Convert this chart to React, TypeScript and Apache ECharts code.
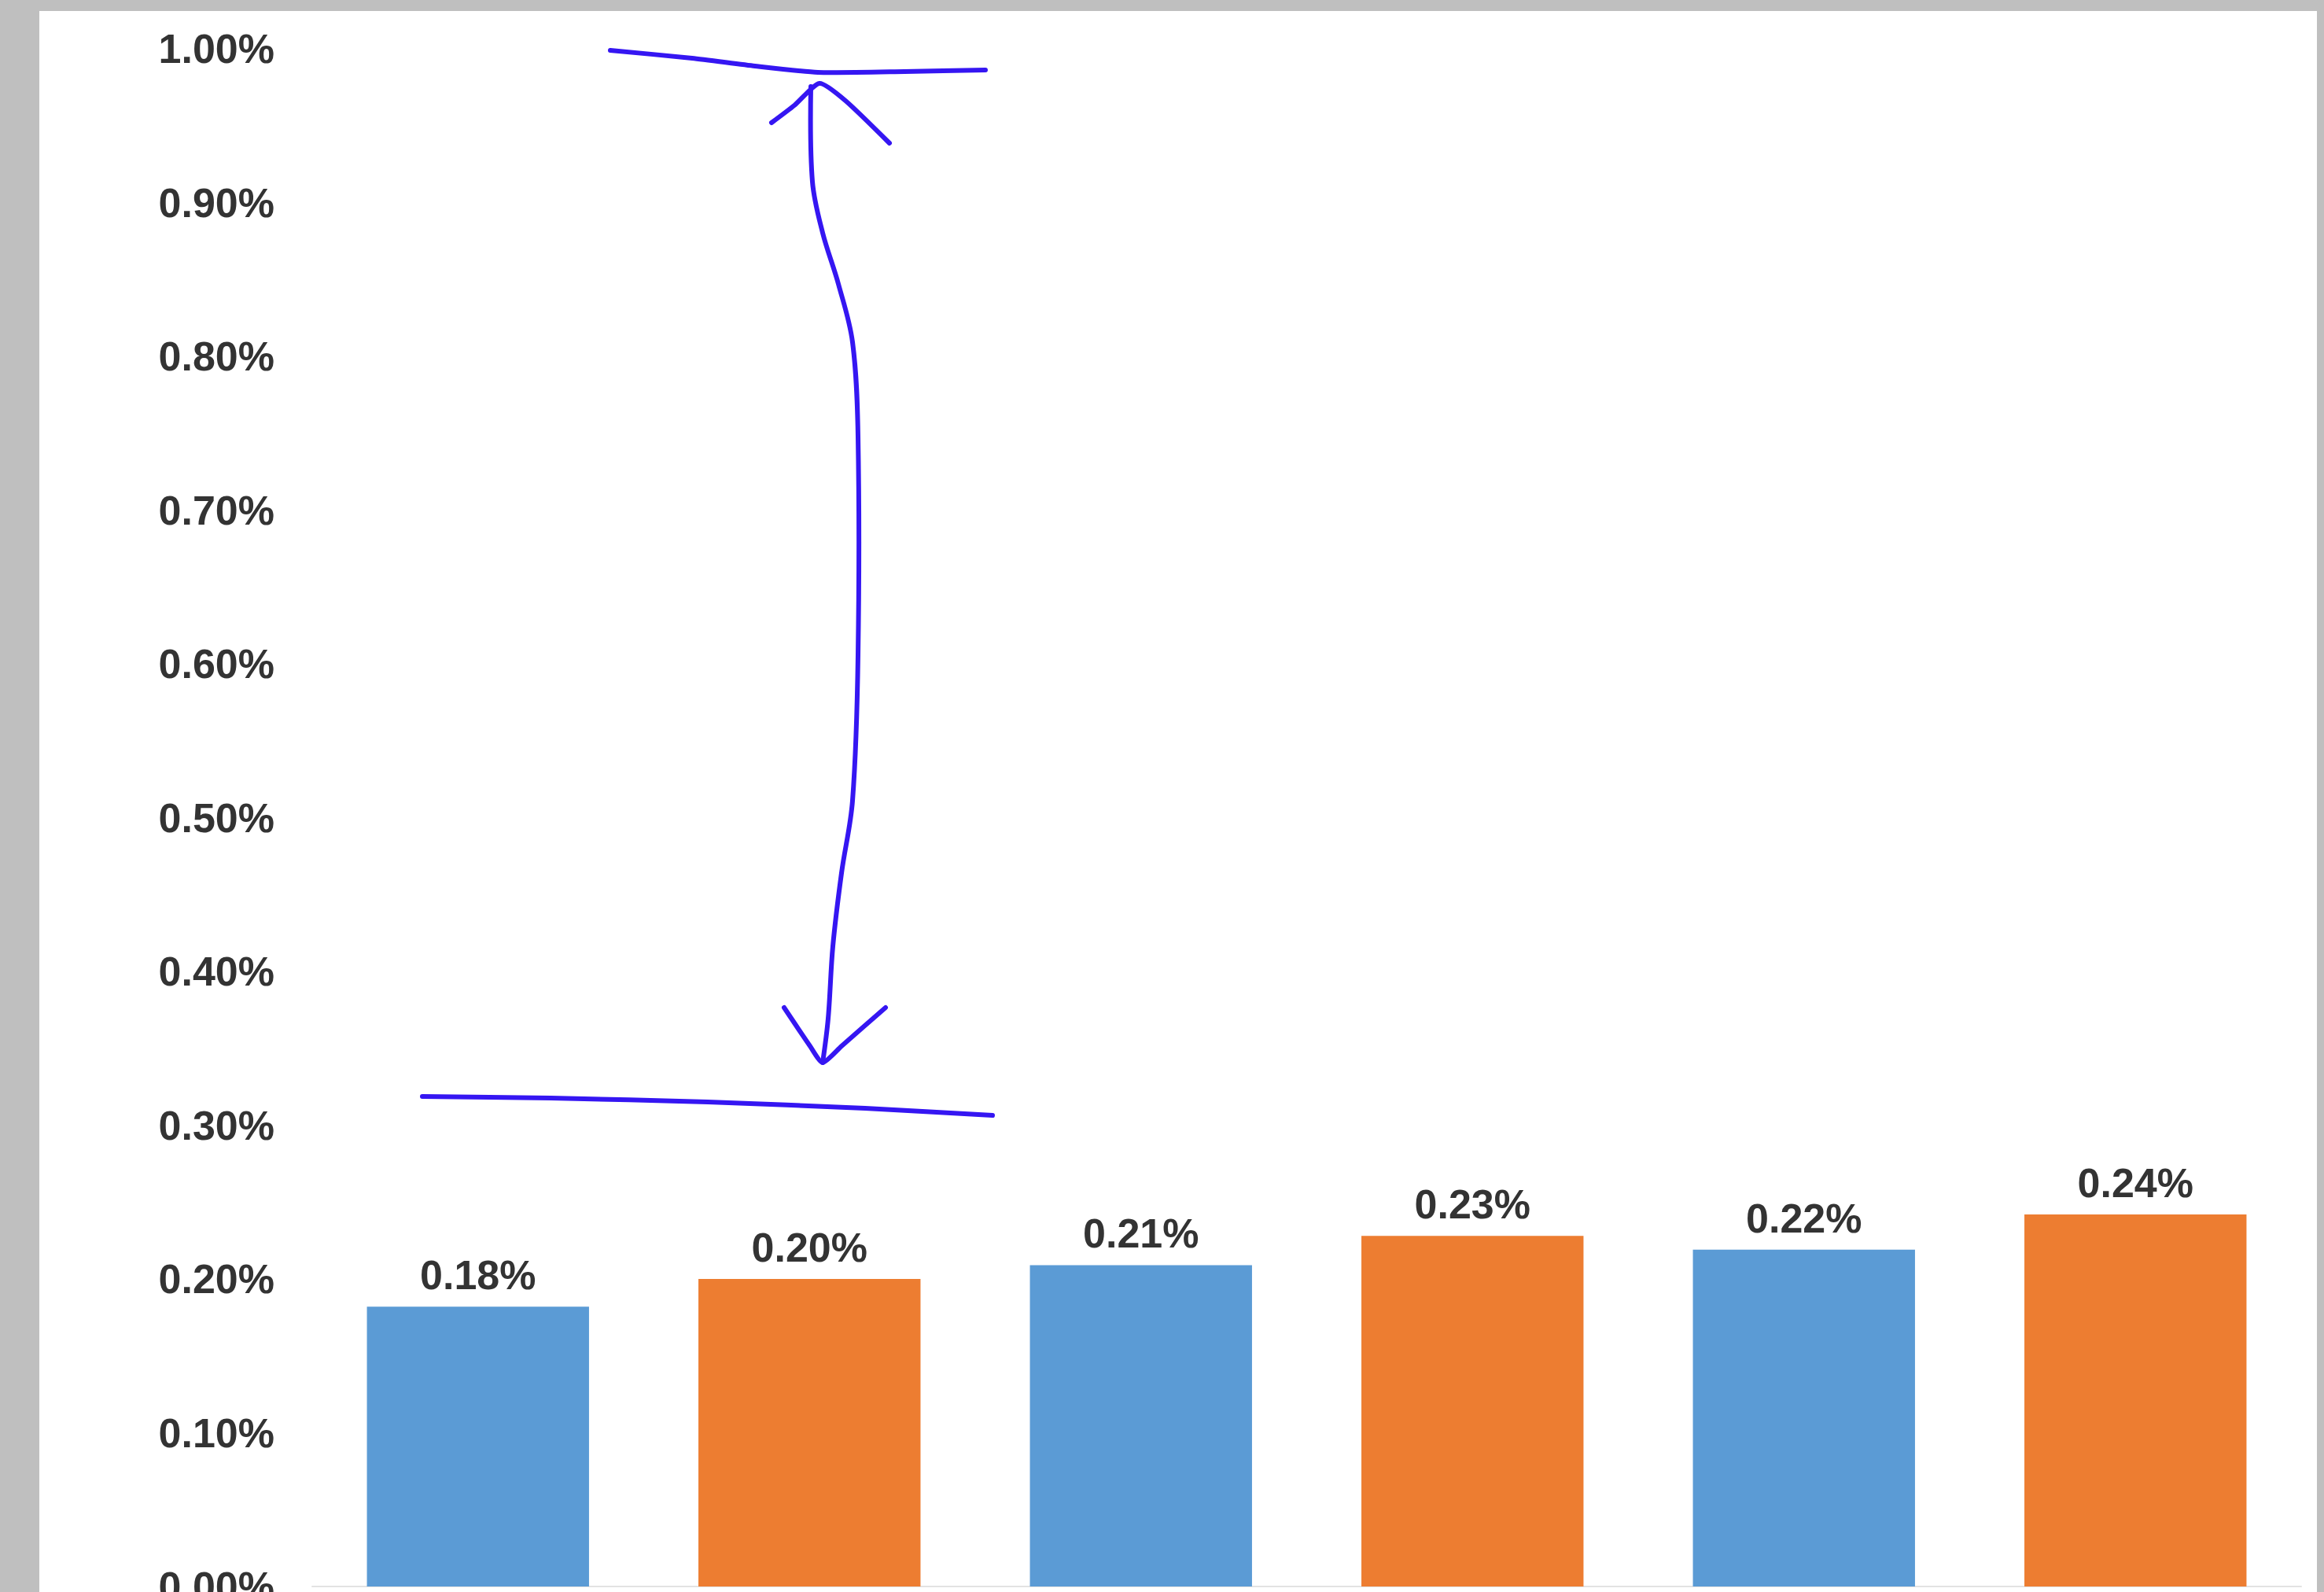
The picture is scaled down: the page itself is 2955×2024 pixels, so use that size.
import React, { useEffect, useRef } from "react";
import * as echarts from "echarts";

// ---- data ----
const categories = ["1", "2", "3", "4", "5", "6"];
const values = [0.182, 0.2, 0.209, 0.228, 0.219, 0.242]; // percent
const barColors = ["#5b9bd5", "#ed7d31", "#5b9bd5", "#ed7d31", "#5b9bd5", "#ed7d31"];
const yMin = 0;
const yMax = 1.0;
const yStep = 0.1;

// hand-drawn annotation strokes (pixel positions on the page)
const inkTopLine = [[776, 64], [880, 74], [960, 84], [1040, 92], [1150, 91], [1253, 89]];
const inkTopHead = [[981, 156], [1010, 134], [1042, 106], [1075, 128], [1131, 182]];
const inkShaft = [[1031, 110], [1033, 231], [1046, 296], [1066, 361], [1084, 435], [1091, 555], [1091, 833], [1084, 1018], [1070, 1110], [1059, 1203], [1053, 1295], [1046, 1351]];
const inkBottomHead = [[997, 1281], [1030, 1330], [1046, 1351], [1070, 1330], [1126, 1281]];
const inkBottomLine = [[537, 1394], [700, 1396], [900, 1401], [1100, 1409], [1262, 1418]];

const W = 2955;
const H = 2024;

export default function App() {
  const ref = useRef<HTMLDivElement>(null);
  useEffect(() => {
    if (!ref.current) return;
    const chart = echarts.init(ref.current, undefined, { renderer: "svg" });
    const ink = { stroke: "#3516f2", lineWidth: 6, fill: null as any, lineCap: "round", lineJoin: "round" };
    const strokes = [inkTopLine, inkTopHead, inkShaft, inkBottomHead, inkBottomLine].map((pts, i) => ({
      type: "polyline",
      z: 100,
      shape: { points: pts, smooth: i === 2 ? 0.35 : 0.2 },
      style: ink,
    }));
    chart.setOption({
      animation: false,
      backgroundColor: "#bfbfbf",
      textStyle: { fontFamily: "Liberation Sans, Arial, sans-serif" },
      graphic: [
        { type: "rect", z: -100, shape: { x: 50, y: 14, width: 2896, height: H - 14 }, style: { fill: "#ffffff" } },
        ...strokes,
      ],
      grid: { left: 397, right: 29, top: 62, bottom: H - 2017, containLabel: false, outerBoundsMode: "none" },
      xAxis: {
        type: "category",
        data: categories,
        axisLine: { show: true, lineStyle: { color: "#e3e3e3", width: 2 } },
        axisTick: { show: false },
        axisLabel: { show: false },
      },
      yAxis: {
        type: "value",
        min: yMin,
        max: yMax,
        interval: yStep,
        axisLine: { show: false },
        axisTick: { show: false },
        splitLine: { show: false },
        axisLabel: {
          margin: 48,
          fontSize: 52,
          fontWeight: "bold",
          color: "#333333",
          formatter: (v: number) => v.toFixed(2) + "%",
        },
      },
      series: [
        {
          type: "bar",
          data: values.map((v, i) => ({ value: v, itemStyle: { color: barColors[i] } })),
          barCategoryGap: "33%",
          label: {
            show: true,
            position: "top",
            distance: 14,
            fontSize: 52,
            fontWeight: "bold",
            color: "#333333",
            formatter: (p: any) => Number(p.value).toFixed(2) + "%",
          },
        },
      ],
    });
    return () => chart.dispose();
  }, []);
  return <div ref={ref} style={{ position: "absolute", left: 0, top: 0, width: W, height: H }} />;
}
